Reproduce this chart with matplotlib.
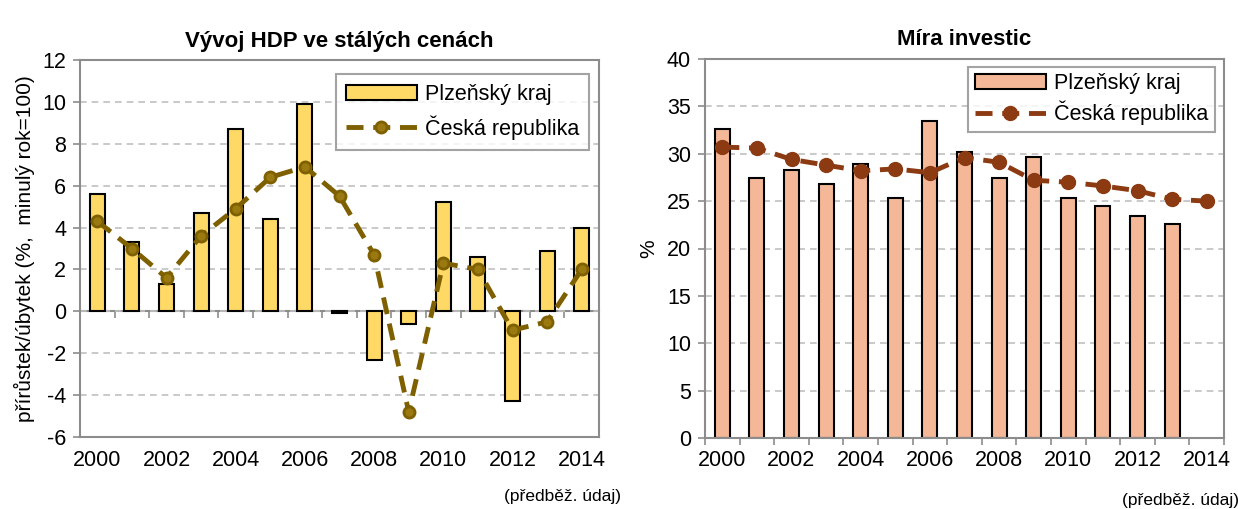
import matplotlib.pyplot as plt
import numpy as np

plt.rcParams['font.family'] = ['Liberation Sans', 'DejaVu Sans']
plt.rcParams['axes.unicode_minus'] = False

# data
years = list(range(2000, 2015))
hdp_kraj = [5.6, 3.3, 1.3, 4.7, 8.7, 4.4, 9.9, -0.1, -2.3, -0.6, 5.2, 2.6, -4.3, 2.9, 4.0]
hdp_cr = [4.3, 3.0, 1.6, 3.6, 4.9, 6.4, 6.9, 5.5, 2.7, -4.8, 2.3, 2.0, -0.9, -0.5, 2.0]
inv_kraj = [32.6, 27.4, 28.3, 26.8, 28.9, 25.3, 33.5, 30.2, 27.4, 29.7, 25.3, 24.5, 23.4, 22.6, np.nan]
inv_cr = [30.7, 30.6, 29.4, 28.8, 28.2, 28.4, 28.0, 29.6, 29.1, 27.2, 27.0, 26.6, 26.1, 25.2, 25.0]
label_kraj = 'Plzeňský kraj'
label_cr = 'Česká republika'

GRAY = '#8c8c8c'
GRID = '#c0c0c0'
FS = 15.5

W, H = 1238, 509
fig = plt.figure(figsize=(W / 100, H / 100), dpi=100)

def box(x0, y0, x1, y1):
    return [x0 / W, 1 - y1 / H, (x1 - x0) / W, (y1 - y0) / H]

x = np.arange(len(years))
bounds = np.arange(len(years) + 1) - 0.5
even = x[::2]
even_labels = [str(years[i]) for i in even]


def style(ax, ymin, ymax, step):
    ax.set_xlim(-0.5, len(years) - 0.5)
    ax.set_ylim(ymin, ymax)
    ax.set_yticks(np.arange(ymin, ymax + 0.1, step))
    ax.yaxis.grid(True, color=GRID, linestyle=(0, (4, 3)), linewidth=1.2)
    ax.set_axisbelow(True)
    for s in ax.spines.values():
        s.set_color(GRAY)
        s.set_linewidth(1.5)
    ax.tick_params(axis='y', direction='out', length=5, color=GRAY, width=1.2,
                   labelsize=FS, pad=5)
    ax.set_xticks(even)
    ax.set_xticklabels(even_labels)
    ax.tick_params(axis='x', length=0, labelsize=FS, pad=9)


def legend(ax, anchor, pad, spacing):
    h, l = ax.get_legend_handles_labels()
    leg = ax.legend(h[::-1], l[::-1], loc='upper right', bbox_to_anchor=anchor,
                    fontsize=FS, fancybox=False, edgecolor=GRAY, handlelength=3.3,
                    borderpad=pad, labelspacing=spacing, handletextpad=0.4,
                    borderaxespad=0)
    leg.get_frame().set_linewidth(1.5)


# ---------- left: HDP ----------
ax1 = fig.add_axes(box(80, 60, 599, 437))
style(ax1, -6, 12, 2)
ax1.bar(x, hdp_kraj, width=0.43, color='#FFD966', edgecolor='black', linewidth=1.5,
        label=label_kraj, zorder=2)
ax1.plot(x, hdp_cr, color='#7F6000', linewidth=3.5, linestyle=(0, (3.5, 2)),
         marker='o', markersize=8, markerfacecolor='#9a7a10', markeredgecolor='#7F6000',
         markeredgewidth=2, label=label_cr, zorder=3)
sec = ax1.secondary_xaxis(6 / 18)
sec.set_xticks(bounds)
sec.set_xticklabels([])
sec.tick_params(direction='out', length=5, color=GRAY, width=1.2)
sec.spines['bottom'].set_color(GRAY)
sec.spines['bottom'].set_linewidth(1.5)
ax1.set_ylabel('přírůstek/úbytek (%,  minulý rok=100)', fontsize=15, labelpad=5)
ax1.set_title('Vývoj HDP ve stálých cenách', fontsize=16, fontweight='bold', pad=9)
legend(ax1, (0.981, 0.963), 0.45, 0.5)

# ---------- right: investice ----------
ax2 = fig.add_axes(box(705, 59, 1224, 438))
style(ax2, 0, 40, 5)
ax2.bar(x, inv_kraj, width=0.43, color='#F4B899', edgecolor='black', linewidth=1.5,
        label=label_kraj, zorder=2)
ax2.plot(x, inv_cr, color='#8B3A12', linewidth=3.5, linestyle=(0, (3.5, 2)),
         marker='o', markersize=10, markerfacecolor='#8B3A12', markeredgecolor='#8B3A12',
         label=label_cr, zorder=3)
ax2.set_xticks(bounds, minor=True)
ax2.tick_params(axis='x', which='minor', direction='out', length=5, color=GRAY, width=1.2)
ax2.set_ylabel('%', fontsize=15, labelpad=6)
ax2.set_title('Míra investic', fontsize=16, fontweight='bold', pad=10)
legend(ax2, (0.983, 0.979), 0.3, 0.3)

fig.text(563 / W, 1 - 497 / H, '(předběž. údaj)', fontsize=12.5, ha='center', va='center')
fig.text(1180 / W, 1 - 501 / H, '(předběž. údaj)', fontsize=12.5, ha='center', va='center')

fig.savefig('out.png', dpi=100)
